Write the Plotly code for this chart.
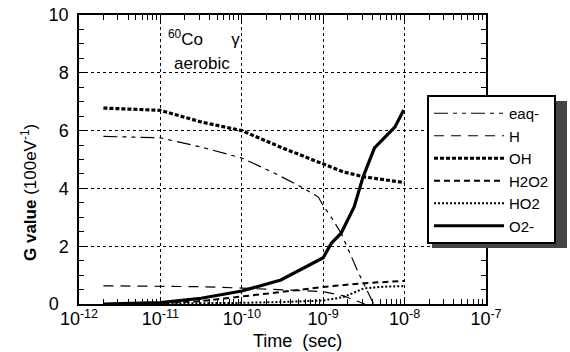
import plotly.graph_objects as go

# ---- data (log10 of time in seconds, G value) ----
eaq_logt = [-11.7, -11.0, -10.5, -10.0, -9.6, -9.27, -9.06, -9.0, -8.9, -8.78, -8.57, -8.51, -8.38]
eaq_g = [5.8, 5.75, 5.43, 5.05, 4.53, 4.05, 3.7, 3.4, 3.0, 2.45, 1.1, 0.76, 0.0]

h_logt = [-11.7, -11.0, -10.5, -10.0, -9.5, -9.0, -8.75, -8.53, -8.49]
h_g = [0.63, 0.62, 0.6, 0.55, 0.5, 0.43, 0.28, 0.03, 0.0]

oh_logt = [-11.7, -11.0, -10.5, -10.0, -9.5, -9.0, -8.75, -8.5, -8.25, -8.0]
oh_g = [6.78, 6.7, 6.3, 6.0, 5.4, 4.84, 4.57, 4.4, 4.3, 4.2]

h2o2_logt = [-11.7, -11.0, -10.5, -10.0, -9.5, -9.0, -8.5, -8.0]
h2o2_g = [0.0, 0.03, 0.1, 0.25, 0.42, 0.59, 0.72, 0.8]

ho2_logt = [-11.7, -11.0, -10.0, -9.5, -9.0, -8.75, -8.5, -8.25, -8.0]
ho2_g = [0.0, 0.01, 0.04, 0.07, 0.12, 0.24, 0.54, 0.6, 0.62]

o2_logt = [-11.7, -11.0, -10.5, -10.14, -10.0, -9.52, -9.11, -9.0, -8.9, -8.78, -8.62,
           -8.51, -8.37, -8.25, -8.12, -8.01]
o2_g = [0.0, 0.05, 0.2, 0.37, 0.45, 0.83, 1.42, 1.6, 2.1, 2.45, 3.36, 4.4, 5.4, 5.74,
        6.12, 6.71]

series_names = ["eaq-", "H", "OH", "H2O2", "HO2", "O2-"]
x_tick_exps = [-12, -11, -10, -9, -8, -7]
y_tick_vals = [0, 2, 4, 6, 8, 10]
y_tick_text = ["0\u00a0\u00a0", "2", "4", "6", "8", "10"]

series = [
    (eaq_logt, eaq_g, dict(color="black", width=1.2, dash="14px,5px,4px,5px,4px,5px")),
    (h_logt, h_g, dict(color="black", width=1.2, dash="10px,7px")),
    (oh_logt, oh_g, dict(color="black", width=3.2, dash="4px,2px")),
    (h2o2_logt, h2o2_g, dict(color="black", width=2, dash="6px,4px")),
    (ho2_logt, ho2_g, dict(color="black", width=2, dash="2px,2px")),
    (o2_logt, o2_g, dict(color="black", width=3.2)),
]

FONT = "Liberation Sans, Arial, Helvetica, sans-serif"

fig = go.Figure()
for name, (lt, g, line) in zip(series_names, series):
    fig.add_trace(go.Scatter(
        x=[10 ** v for v in lt], y=g, mode="lines", name=name, line=line,
    ))

W, H = 570, 352
L, R, T, B = 79, 84, 15, 48

axis_common = dict(
    showline=True, linecolor="black", linewidth=1.5, mirror="ticks",
    ticks="inside", tickcolor="black", ticklen=6, tickwidth=1,
    showgrid=True, gridcolor="black", gridwidth=1, griddash="dot",
    zeroline=False, automargin=False,
    tickfont=dict(family=FONT, size=18, color="black"),
)

minor_x = [k * 10.0 ** e for e in x_tick_exps[:-1] for k in range(2, 10)]

fig.update_xaxes(
    type="log", range=[-12, -7],
    tickvals=[10 ** e for e in x_tick_exps],
    ticktext=["10<sup>%d</sup>" % e for e in x_tick_exps],
    ticklabelstandoff=-2,
    minor=dict(ticks="inside", ticklen=5, tickvals=minor_x, tickcolor="black", showgrid=False),
    **axis_common,
)
fig.update_yaxes(
    range=[0, 10], tickvals=y_tick_vals, ticktext=y_tick_text,
    ticklabelstandoff=5,
    minor=dict(ticks="inside", ticklen=5, dtick=0.5, tickcolor="black", showgrid=False),
    **axis_common,
)

px = lambda xp: (xp - L) / (W - L - R)
py = lambda yp: (H - B - yp) / (H - T - B)

# axis titles
fig.add_annotation(x=px(297), y=py(341), xref="paper", yref="paper", showarrow=False,
                   xanchor="center", yanchor="middle",
                   text="Time  (sec)", font=dict(family=FONT, size=18, color="black"))
fig.add_annotation(x=px(29), y=py(193), xref="paper", yref="paper", showarrow=False,
                   xanchor="center", yanchor="middle", textangle=-90,
                   text="<b>G value</b> (100eV<sup>-1</sup>)",
                   font=dict(family=FONT, size=17, color="black"))

# in-plot labels
fig.add_annotation(x=px(204), y=py(38), xref="paper", yref="paper", showarrow=False,
                   xanchor="center", yanchor="middle",
                   text="<sup>60</sup>Co      γ", font=dict(family=FONT, size=17, color="black"))
fig.add_annotation(x=px(202), y=py(63), xref="paper", yref="paper", showarrow=False,
                   xanchor="center", yanchor="middle",
                   text="aerobic", font=dict(family=FONT, size=17, color="black"))

# legend drop shadow
fig.add_shape(type="rect", xref="paper", yref="paper", layer="above",
              x0=px(432), x1=px(567), y0=py(248), y1=py(101),
              fillcolor="#444", line=dict(width=0))

fig.update_layout(
    width=W, height=H, margin=dict(l=L, r=R, t=T, b=B, autoexpand=False),
    paper_bgcolor="white", plot_bgcolor="white",
    showlegend=True,
    legend=dict(x=px(427), y=py(95), xanchor="left", yanchor="top",
                bgcolor="white", bordercolor="black", borderwidth=2,
                font=dict(family=FONT, size=15, color="black"),
                itemwidth=70, tracegroupgap=0),
)

fig.write_html("out.html")
